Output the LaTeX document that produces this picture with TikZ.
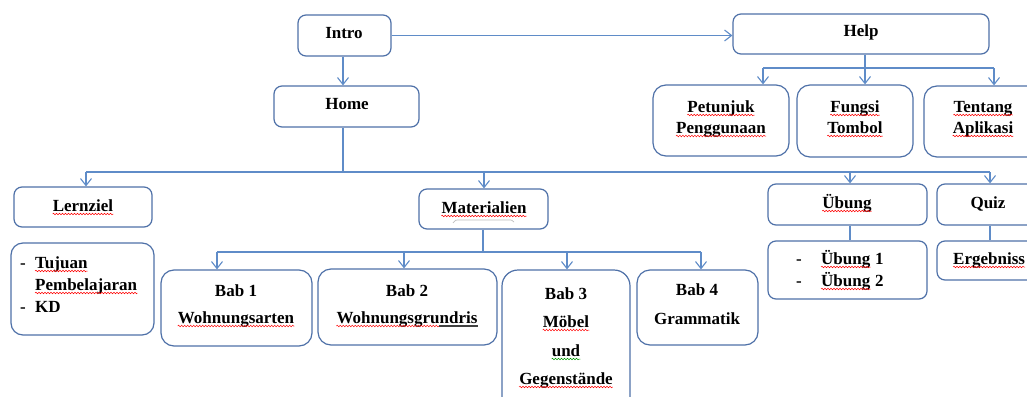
\documentclass[tikz,border=0pt]{standalone}
\usepackage{fontspec}
\setmainfont{Liberation Serif}
\usetikzlibrary{arrows.meta,fit,calc,decorations.pathmorphing}
\definecolor{boxc}{RGB}{79,113,168}
\definecolor{linec}{RGB}{95,140,200}
\newcommand\squig[2][red]{\draw[wv, draw=#1] ([yshift=-3pt]#2.base west) -- ([yshift=-3pt]#2.base east);}
\begin{document}
\begin{tikzpicture}[x=1pt,y=-1pt,
  box/.style={draw=boxc, line width=1.2pt, rounded corners=8pt, inner sep=0pt},
  tall/.style={box, rounded corners=13pt},
  lbl/.style={font=\fontsize{17}{20}\selectfont\bfseries, inner sep=0pt, anchor=base},
  lbw/.style={lbl, anchor=base west},
  ln/.style={draw=linec, line width=1.1pt},
  arr/.style={ln, -{Straight Barb[length=7pt,width=11pt]}},
  wv/.style={line width=0.5pt, decorate, decoration={snake, amplitude=0.8pt, segment length=3pt}}]
\clip (0,0) rectangle (1027,396);
\fill[white] (0,0) rectangle (1027,396);
% boxes
\node[box, fit={(298,15)(391,56)}] (intro) {};
\node[lbl] (introT) at (344,39) {Intro};
\node[box, fit={(274,86)(419,127)}] (home) {};
\node[lbl] (homeT) at (347,109) {Home};
\node[box, fit={(733,14)(989,54)}] (help) {};
\node[lbl] (helpT) at (861,37) {Help};
\node[tall, fit={(653,85)(789,156)}] (pet) {};
\node[lbl] (petT1) at (721,112) {Petunjuk};
\node[lbl] (petT2) at (721,133) {Penggunaan};
\node[tall, fit={(797,85)(913,157)}] (fun) {};
\node[lbl] (funT1) at (855,112) {Fungsi};
\node[lbl] (funT2) at (855,133) {Tombol};
\node[tall, fit={(924,86)(1045,157)}] (ten) {};
\node[lbl] (tenT1) at (983,112) {Tentang};
\node[lbl] (tenT2) at (983,133) {Aplikasi};
\node[box, fit={(14,187)(152,227)}] (lern) {};
\node[lbl] (lernT) at (83,211) {Lernziel};
\node[box, fit={(419,189)(548,229)}] (mat) {};
\node[lbl] (matT) at (484,213) {Materialien};
\draw[black!25, line width=0.7pt] (453,223) .. controls (455,220) .. (460,220) -- (508,220) .. controls (512,220) .. (514,222);
\node[tall, rounded corners=12pt, fit={(11,243)(154,335)}] (tuj) {};
\node[lbw] (tujD1) at (20,268) {-};
\node[lbw] (tujT1) at (35,268) {Tujuan};
\node[lbw] (tujT2) at (35,290) {Pembelajaran};
\node[lbw] (tujD2) at (20,312) {-};
\node[lbw] (tujT3) at (35,312) {KD};
\node[tall, fit={(161,270)(312,346)}] (bab1) {};
\node[lbl] (bab1T1) at (236,296) {Bab 1};
\node[lbl] (bab1T2) at (236,323) {Wohnungsarten};
\node[tall, fit={(318,269)(497,345)}] (bab2) {};
\node[lbl] (bab2T1) at (407,296) {Bab 2};
\node[lbl] (bab2T2) at (407,323) {Wohnungsgrundris};
\node[tall, rounded corners=16pt, fit={(502,270)(630,420)}] (bab3) {};
\node[lbl] (bab3T1) at (566,299) {Bab 3};
\node[lbl] (bab3T2) at (566,327) {Möbel};
\node[lbl] (bab3T3) at (566,356) {und};
\node[lbl] (bab3T4) at (566,384) {Gegenstände};
\node[tall, fit={(637,270)(758,345)}] (bab4) {};
\node[lbl] (bab4T1) at (697,295) {Bab 4};
\node[lbl] (bab4T2) at (697,324) {Grammatik};
\node[box, fit={(768,184)(927,225)}] (ueb) {};
\node[lbl] (uebT) at (847,208) {Übung};
\node[box, fit={(937,184)(1045,225)}] (quiz) {};
\node[lbl] (quizT) at (988,208) {Quiz};
\node[box, fit={(768,241)(927,299)}] (uel) {};
\node[lbw] (uelD1) at (796,264) {-};
\node[lbw] (uelT1) at (821,264) {Übung};
\node[lbw] (uelN1) at ([xshift=4.3pt]uelT1.base east) {1};
\node[lbw] (uelD2) at (796,286) {-};
\node[lbw] (uelT2) at (821,286) {Übung};
\node[lbw] (uelN2) at ([xshift=4.3pt]uelT2.base east) {2};
\node[box, fit={(937,241)(1045,280)}] (erg) {};
\node[lbw] (ergT) at (953,264) {Ergebniss};
% spelling marks
\squig{petT1}\squig{petT2}\squig{funT1}\squig{funT2}\squig{tenT1}\squig{tenT2}
\squig{lernT}\squig{matT}\squig{tujT1}\squig{tujT2}\squig{bab1T2}
\squig{bab3T2}\squig[green!60!black]{bab3T3}\squig{bab3T4}
\squig{uebT}\squig{uelT1}\squig{uelT2}\squig{ergT}
\draw[wv, draw=red] ([yshift=-3pt]bab2T2.base west) -- ([yshift=-3pt]$(bab2T2.base west)!0.73!(bab2T2.base east)$);
\draw[black!75, line width=1.2pt] ([yshift=-3pt]$(bab2T2.base west)!0.73!(bab2T2.base east)$) -- ([yshift=-3pt]bab2T2.base east);
% junctions
\coordinate (hj) at (343,172);
\coordinate (hL) at (86,172);
\coordinate (hM) at (484,172);
\coordinate (hU) at (850,172);
\coordinate (hR) at (990,172);
\coordinate (pj) at (865,68);
\coordinate (pL) at (763,68);
\coordinate (pR) at (994,68);
\coordinate (mj) at (483,252);
\coordinate (mL) at (217,252);
\coordinate (m2) at (404,252);
\coordinate (m3) at (567,252);
\coordinate (mR) at (701,252);
% connectors
\draw[arr] (intro.east) -- (help.west |- intro.east);
\draw[arr] (intro.south -| hj) -- (home.north -| hj);
\draw[ln] (home.south -| hj) -- (hj);
\draw[ln] (hL) -- (hR);
\draw[arr] (hL) -- (hL |- lern.north);
\draw[arr] (hM) -- (hM |- mat.north);
\draw[arr] (hU) -- (hU |- ueb.north);
\draw[arr] (hR) -- (hR |- quiz.north);
\draw[ln] (help.south -| pj) -- (pj);
\draw[ln] (pL) -- (pR);
\draw[arr] (pL) -- (pL |- pet.north);
\draw[arr] (pj) -- (pj |- fun.north);
\draw[arr] (pR) -- (pR |- ten.north);
\draw[ln] (mat.south -| mj) -- (mj);
\draw[ln] (mL) -- (mR);
\draw[arr] (mL) -- (mL |- bab1.north);
\draw[arr] (m2) -- (m2 |- bab2.north);
\draw[arr] (m3) -- (m3 |- bab3.north);
\draw[arr] (mR) -- (mR |- bab4.north);
\draw[ln] (ueb.south -| hU) -- (uel.north -| hU);
\draw[ln] (quiz.south -| hR) -- (erg.north -| hR);
\end{tikzpicture}
\end{document}
